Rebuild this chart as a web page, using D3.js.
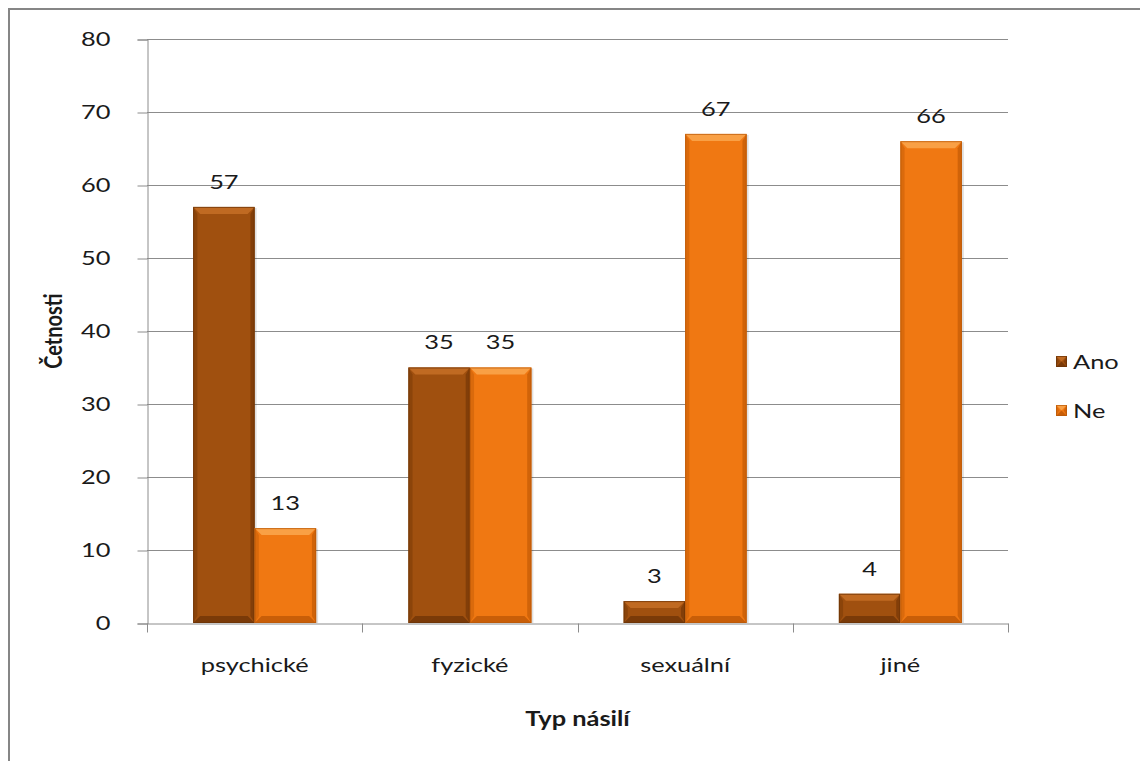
<!DOCTYPE html>
<html>
<head>
<meta charset="utf-8">
<script src="https://cdn.jsdelivr.net/npm/d3@7"></script>
<style>
  html, body { margin: 0; padding: 0; background: #fff; }
  svg text { font-family: Lato, "Open Sans", sans-serif; fill: #1a1a1a; }
</style>
</head>
<body>
<svg id="chart" width="1140" height="761"></svg>
<script>
const categories = ["psychické", "fyzické", "sexuální", "jiné"];
const seriesNames = ["Ano", "Ne"];
const anoValues = [57, 35, 3, 4];
const neValues = [13, 35, 67, 66];
const yTicks = [0, 10, 20, 30, 40, 50, 60, 70, 80];

const colors = {
  Ano: { base: "#a0500f", light: "#c06a22", dark: "#7a3a08", edge: "#6a3206" },
  Ne:  { base: "#f07812", light: "#f9a045", dark: "#c85e08", edge: "#b85808" }
};

const svg = d3.select("#chart");
const W = 1140, H = 761;
const plot = { left: 147, right: 1008, top: 39, bottom: 623 };
const FS = 20;        // text size
const SX = 1.27;      // horizontal widening of the lettering

// outer chart frame
svg.append("rect")
  .attr("x", 9).attr("y", 9)
  .attr("width", W + 20).attr("height", H + 20)
  .attr("fill", "#fff").attr("stroke", "#868686").attr("stroke-width", 2);

const y = d3.scaleLinear().domain([0, 80]).range([plot.bottom, plot.top]);
const x0 = d3.scaleBand().domain(categories).range([plot.left, plot.right]).padding(0);
const bw = x0.bandwidth();
const x1 = d3.scaleBand().domain(seriesNames)
  .range([bw * 0.2143, bw * 0.7857]).padding(0);

// gridlines
svg.append("g").selectAll("line").data(yTicks.filter(d => d > 0)).join("line")
  .attr("x1", plot.left).attr("x2", plot.right)
  .attr("y1", d => Math.round(y(d)) + 0.5).attr("y2", d => Math.round(y(d)) + 0.5)
  .attr("stroke", "#8c8c8c").attr("stroke-width", 1);

// y axis
const yAxis = d3.axisLeft(y).tickValues(yTicks).tickSize(10).tickPadding(27);
const gy = svg.append("g").attr("transform", `translate(${plot.left + 0.5},0.5)`).call(yAxis);
gy.select(".domain").attr("stroke", "#8c8c8c");
gy.selectAll(".tick line").attr("stroke", "#8c8c8c");
gy.selectAll(".tick text").attr("font-size", FS).attr("fill", "#1a1a1a")
  .attr("font-family", "Lato, 'Open Sans', sans-serif");

// x axis
const xAxis = d3.axisBottom(x0).tickSize(0).tickPadding(34);
const gx = svg.append("g").attr("transform", `translate(0,${plot.bottom + 0.5})`).call(xAxis);
gx.select(".domain").attr("stroke", "#8c8c8c");
gx.selectAll(".tick text").attr("font-size", FS).attr("fill", "#1a1a1a")
  .attr("font-family", "Lato, 'Open Sans', sans-serif");
// category boundary ticks
gx.append("g").selectAll("line")
  .data(categories.map(c => x0(c)).concat([plot.right]))
  .join("line")
  .attr("x1", d => Math.round(d) + 0.5).attr("x2", d => Math.round(d) + 0.5)
  .attr("y1", 0).attr("y2", 9).attr("stroke", "#8c8c8c");

// bevelled bar shape
function drawBar(g, bx, by, w, h, c) {
  const b = Math.min(7, h / 2, w / 2);
  g.append("rect").attr("x", bx).attr("y", by).attr("width", w).attr("height", h)
    .attr("fill", c.base);
  g.append("path").attr("d",
    `M${bx},${by}L${bx + w},${by}L${bx + w - b},${by + b}L${bx + b},${by + b}Z`)
    .attr("fill", c.light);
  g.append("path").attr("d",
    `M${bx},${by + h}L${bx + w},${by + h}L${bx + w - b},${by + h - b}L${bx + b},${by + h - b}Z`)
    .attr("fill", c.dark);
  g.append("path").attr("d",
    `M${bx},${by}L${bx + b * 0.6},${by + b}L${bx + b * 0.6},${by + h - b}L${bx},${by + h}Z`)
    .attr("fill", c.dark).attr("opacity", 0.55);
  g.append("path").attr("d",
    `M${bx + w},${by}L${bx + w - b * 0.6},${by + b}L${bx + w - b * 0.6},${by + h - b}L${bx + w},${by + h}Z`)
    .attr("fill", c.dark).attr("opacity", 0.8);
  g.append("rect").attr("x", bx + 0.5).attr("y", by + 0.5).attr("width", w - 1).attr("height", h - 1)
    .attr("fill", "none").attr("stroke", c.edge).attr("stroke-width", 1).attr("opacity", 0.7);
}

const rows = categories.map((cat, i) => ({ cat, Ano: anoValues[i], Ne: neValues[i] }));
const bars = svg.append("g");
const labels = svg.append("g");
rows.forEach(r => {
  seriesNames.forEach(s => {
    const bx = x0(r.cat) + x1(s);
    const by = y(r[s]);
    const g = bars.append("g");
    g.append("rect").attr("x", bx + 2).attr("y", by + 1)
      .attr("width", x1.bandwidth()).attr("height", plot.bottom - by - 1)
      .attr("fill", "#000").attr("opacity", 0.12);
    drawBar(g, bx, by, x1.bandwidth(), plot.bottom - by, colors[s]);
    labels.append("text")
      .attr("x", bx + x1.bandwidth() / 2).attr("y", by - 18)
      .attr("text-anchor", "middle").attr("font-size", FS)
      .text(r[s]);
  });
});

// axis titles
svg.append("text")
  .attr("class", "rot")
  .attr("transform", `translate(62,${(plot.top + plot.bottom) / 2}) scale(${SX},1) rotate(-90)`)
  .attr("text-anchor", "middle").attr("font-size", FS).attr("font-weight", "bold")
  .text("Četnosti");
svg.append("text")
  .attr("x", (plot.left + plot.right) / 2).attr("y", 726)
  .attr("text-anchor", "middle").attr("font-size", FS).attr("font-weight", "bold")
  .text("Typ násilí");

// legend
const legend = svg.append("g");
seriesNames.forEach((s, i) => {
  const ly = 362 + i * 49;
  const g = legend.append("g");
  drawBar(g, 1056, ly - 6, 11, 11, colors[s]);
  legend.append("text").attr("x", 1073).attr("y", ly + 7)
    .attr("font-size", FS).text(s);
});

// widen all horizontal lettering about its anchor x
svg.selectAll("text:not(.rot)").each(function () {
  const t = d3.select(this);
  const ax = +(t.attr("x") || 0);
  t.attr("transform", `translate(${ax},0) scale(${SX},1) translate(${-ax},0)`);
});
</script>
</body>
</html>
